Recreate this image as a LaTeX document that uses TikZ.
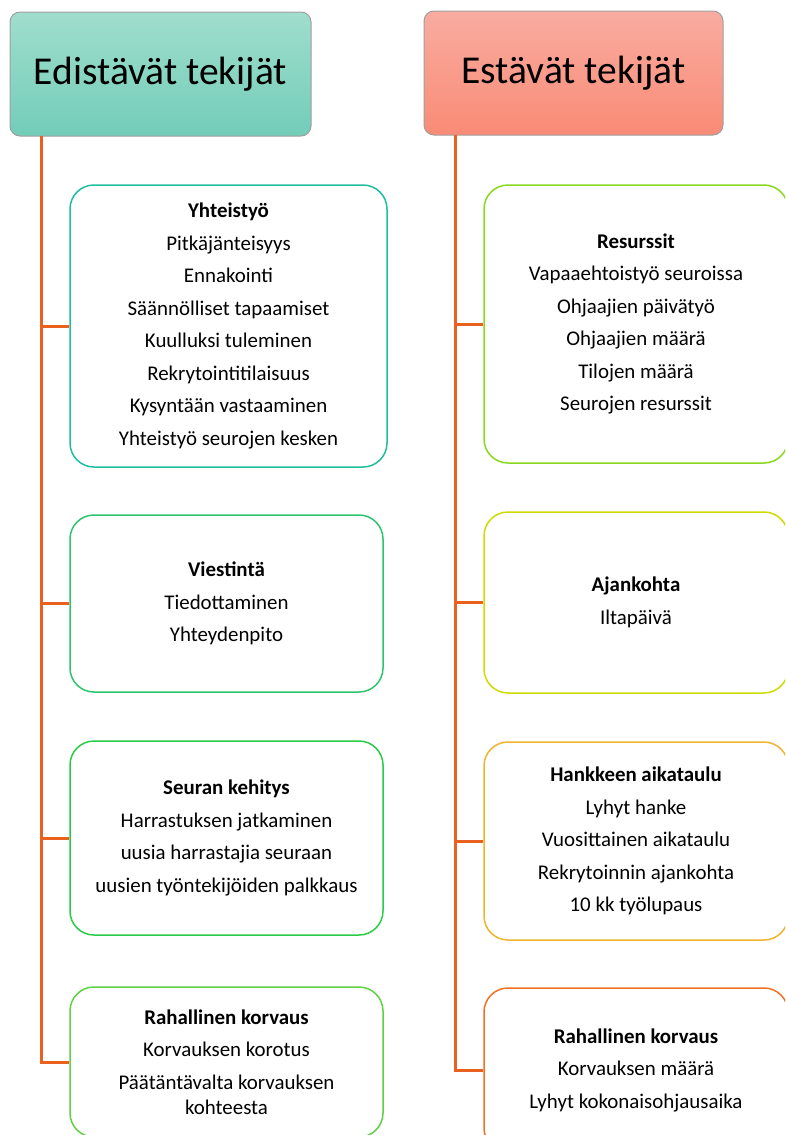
\documentclass[tikz,border=0pt]{standalone}
\usepackage{fontspec}
\setmainfont{Carlito}
\begin{document}
\begin{tikzpicture}[x=1pt, y=-1pt,
        cabecera/.style={draw=gray!75, line width=1pt, rounded corners=10pt,
            minimum height=124pt, inner sep=0pt, font=\fontsize{39.5}{44}\selectfont},
        caja/.style={draw, line width=1.5pt, rounded corners=24pt, fill=white,
            align=center, inner sep=0pt, font=\fontsize{20.9}{25.5}\selectfont},
        rama/.style={line width=3pt, draw=ramanaranja}]
        % Definición de colores
        \definecolor{ramanaranja}{RGB}{234, 96, 30}
        \definecolor{verdeA}{RGB}{160, 221, 205}
        \definecolor{verdeB}{RGB}{114, 205, 184}
        \definecolor{rojoA}{RGB}{249, 172, 160}
        \definecolor{rojoB}{RGB}{249, 139, 118}
        \definecolor{bordeA}{RGB}{30, 190, 160}
        \definecolor{bordeB}{RGB}{44, 196, 108}
        \definecolor{bordeC}{RGB}{40, 204, 70}
        \definecolor{bordeD}{RGB}{96, 208, 68}
        \definecolor{bordeE}{RGB}{136, 216, 32}
        \definecolor{bordeF}{RGB}{204, 220, 0}
        \definecolor{bordeG}{RGB}{240, 180, 48}
        \definecolor{bordeH}{RGB}{240, 112, 36}

        % Marco del dibujo
        \useasboundingbox (0,0) rectangle (785,1135);
        \clip (0,0) rectangle (785,1135);

        % Cabeceras
        \node[cabecera, minimum width=301pt, top color=verdeA, bottom color=verdeB]
            (edist) at (160.5,74) {Edistävät tekijät};
        \node[cabecera, minimum width=299pt, top color=rojoA, bottom color=rojoB]
            (estav) at (573.5,73) {Estävät tekijät};

        % Factores que favorecen
        \node[caja, draw=bordeA, minimum width=317pt, minimum height=282pt] (L1) at (228.5,326)
            {\textbf{Yhteistyö}\\[7pt] Pitkäjänteisyys\\[7pt] Ennakointi\\[7pt]
             Säännölliset tapaamiset\\[7pt] Kuulluksi tuleminen\\[7pt]
             Rekrytointitilaisuus\\[7pt] Kysyntään vastaaminen\\[7pt]
             Yhteistyö seurojen kesken};
        \node[caja, draw=bordeB, minimum width=313pt, minimum height=177pt] (L2) at (226.5,603.5)
            {\textbf{Viestintä}\\[7pt] Tiedottaminen\\[7pt] Yhteydenpito};
        \node[caja, draw=bordeC, minimum width=313pt, minimum height=194pt] (L3) at (226.5,838)
            {\textbf{Seuran kehitys}\\[7pt] Harrastuksen jatkaminen\\[7pt]
             uusia harrastajia seuraan\\[7pt] uusien työntekijöiden palkkaus};
        \node[caja, draw=bordeD, minimum width=313pt, minimum height=150pt] (L4) at (226.5,1062)
            {\textbf{Rahallinen korvaus}\\[7pt] Korvauksen korotus\\[7pt]
             Päätäntävalta korvauksen\\ kohteesta};

        % Factores que impiden
        \node[caja, draw=bordeE, minimum width=304pt, minimum height=278pt] (R1) at (636,324)
            {\textbf{Resurssit}\\[7pt] Vapaaehtoistyö seuroissa\\[7pt] Ohjaajien päivätyö\\[7pt]
             Ohjaajien määrä\\[7pt] Tilojen määrä\\[7pt] Seurojen resurssit};
        \node[caja, draw=bordeF, minimum width=304pt, minimum height=181pt] (R2) at (636,602.5)
            {\textbf{Ajankohta}\\[7pt] Iltapäivä};
        \node[caja, draw=bordeG, minimum width=304pt, minimum height=198pt] (R3) at (636,841)
            {\textbf{Hankkeen aikataulu}\\[7pt] Lyhyt hanke\\[7pt] Vuosittainen aikataulu\\[7pt]
             Rekrytoinnin ajankohta\\[7pt] 10 kk työlupaus};
        \node[caja, draw=bordeH, minimum width=304pt, minimum height=164pt] (R4) at (636,1070)
            {\textbf{Rahallinen korvaus}\\[7pt] Korvauksen määrä\\[7pt] Lyhyt kokonaisohjausaika};

        % Troncos y ramas
        \coordinate (raizL) at (41,136);
        \coordinate (raizR) at (455,135);
        \draw[rama] (raizL) |- (L4.west);
        \draw[rama] (raizR) |- (R4.west);
        \foreach \c in {L1,L2,L3}
            \draw[rama] (\c.west -| raizL) -- (\c.west);
        \foreach \c in {R1,R2,R3}
            \draw[rama] (\c.west -| raizR) -- (\c.west);

    \end{tikzpicture}
\end{document}
